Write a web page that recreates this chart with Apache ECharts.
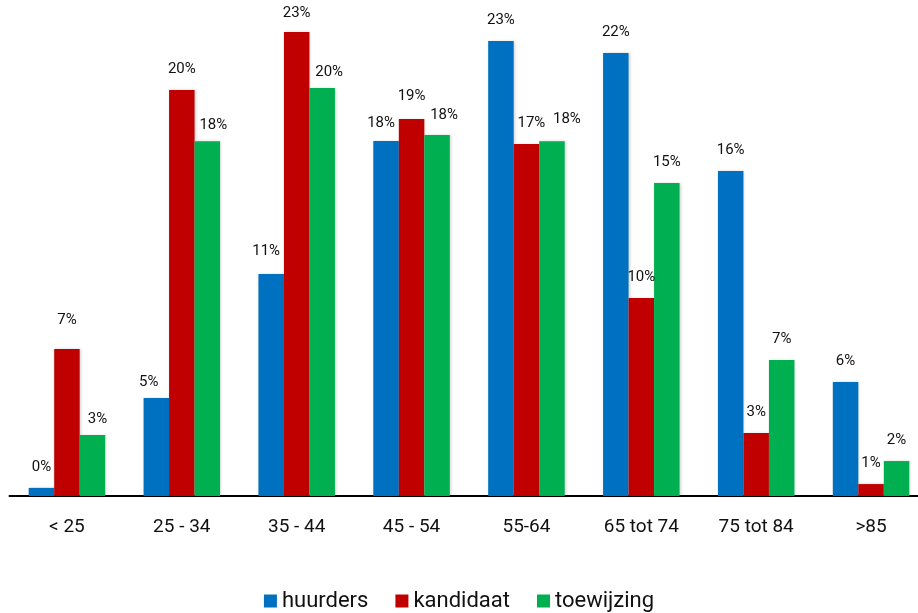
<!DOCTYPE html>
<html>
<head>
<meta charset="utf-8">
<script src="https://cdn.jsdelivr.net/npm/echarts@6/dist/echarts.min.js"></script>
<style>
html,body{margin:0;padding:0;background:#fff;}
#chart{width:918px;height:613px;}
</style>
</head>
<body>
<div id="chart"></div>
<script>
const categories = ['< 25', '25 - 34', '35 - 44', '45 - 54', '55-64', '65 tot 74', '75 tot 84', '>85'];
const huurders   = [0.40, 4.85, 10.99, 17.57, 22.52, 21.92, 16.08, 5.64];
const kandidaat  = [7.27, 20.09, 22.96, 18.66, 17.42, 9.80, 3.12, 0.59];
const toewijzing = [3.02, 17.55, 20.19, 17.86, 17.55, 15.49, 6.73, 1.73];

// label nudges (dx, dy) in px, mimicking the manually placed labels
const nudgeHuurders   = [[0,0],[-7.5,5],[-5,-2.5],[-5,2.5],[0,0],[0,0],[0,0],[0,0]];
const nudgeKandidaat  = [[0,-8],[0,0],[0,2],[0,-2],[5,0],[0,0],[0,0],[0,0]];
const nudgeToewijzing = [[5,4.5],[6,4.5],[7,5],[7,1],[15,-2],[0,0],[0,0],[0,0]];

const FONT = 'Roboto';

function makeSeries(name, values, nudges, color) {
  return {
    name: name,
    type: 'bar',
    barWidth: 25.5,
    barGap: '0%',
    itemStyle: { color: color, shadowBlur: 3, shadowColor: 'rgba(0,0,0,0.18)', shadowOffsetX: 1, shadowOffsetY: 0 },
    label: {
      show: true,
      position: 'top',
      distance: 13,
      color: '#111',
      fontFamily: FONT,
      fontSize: 15,
      formatter: p => Math.round(p.value) + '%'
    },
    data: values.map((v, i) => ({ value: v, label: { offset: nudges[i] } }))
  };
}

const chart = echarts.init(document.getElementById('chart'), null, { renderer: 'canvas' });
chart.setOption({
  animation: false,
  backgroundColor: '#ffffff',
  textStyle: { fontFamily: FONT },
  grid: { left: 9.5, right: -10.5, top: 11, height: 485, outerBoundsMode: 'none', containLabel: false },
  legend: {
    data: ['huurders', 'kandidaat', 'toewijzing'],
    left: 'center',
    top: 585,
    icon: 'rect',
    itemWidth: 13,
    itemHeight: 13,
    itemGap: 27,
    textStyle: { fontFamily: FONT, fontSize: 22, color: '#111' }
  },
  xAxis: {
    type: 'category',
    data: categories,
    axisLine: { lineStyle: { color: '#000', width: 2 } },
    axisTick: { show: false },
    axisLabel: { fontFamily: FONT, fontSize: 19, color: '#111', margin: 22 }
  },
  yAxis: {
    type: 'value',
    min: 0,
    max: 24,
    show: false,
    splitLine: { show: false }
  },
  series: [
    makeSeries('huurders', huurders, nudgeHuurders, '#0070C0'),
    makeSeries('kandidaat', kandidaat, nudgeKandidaat, '#C00000'),
    makeSeries('toewijzing', toewijzing, nudgeToewijzing, '#00B050')
  ]
});
</script>
</body>
</html>
